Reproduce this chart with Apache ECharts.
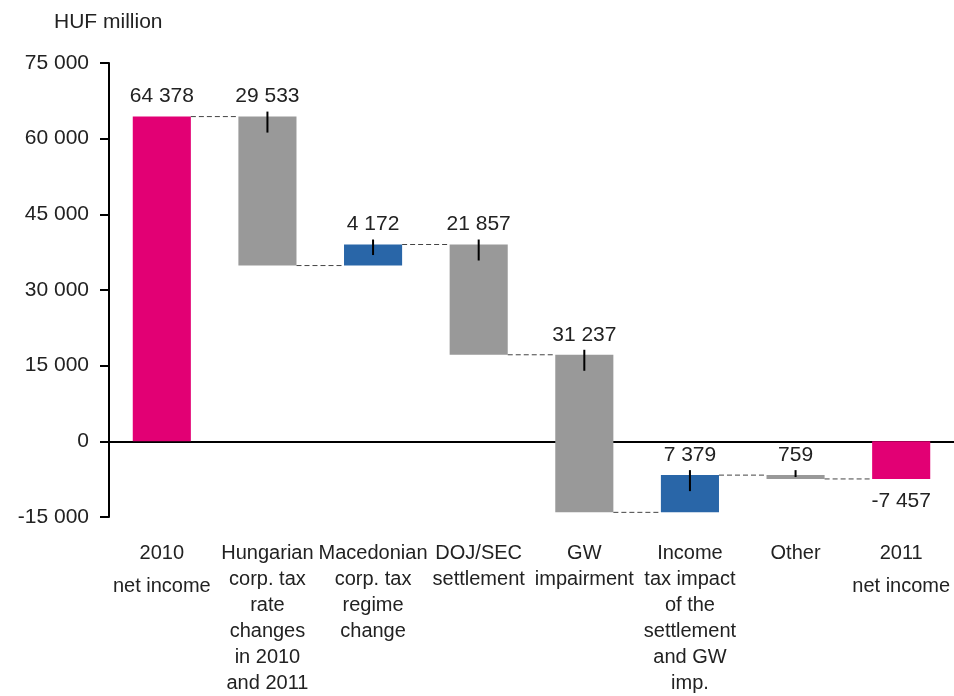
<!DOCTYPE html>
<html>
<head>
<meta charset="utf-8">
<script src="https://cdn.jsdelivr.net/npm/echarts@6/dist/echarts.min.js"></script>
<style>
  html, body { margin: 0; padding: 0; background: #fff; }
  #chart { width: 954px; height: 696px; }
</style>
</head>
<body>
<div id="chart"></div>
<script>
// categories along x
const categories = [
  '2010\nnet income',
  'Hungarian\ncorp. tax\nrate\nchanges\nin 2010\nand 2011',
  'Macedonian\ncorp. tax\nregime\nchange',
  'DOJ/SEC\nsettlement',
  'GW\nimpairment',
  'Income\ntax impact\nof the\nsettlement\nand GW\nimp.',
  'Other',
  '2011\nnet income'
]
// net income (totals) and changes, HUF million
const values = [64378, -29533, 4172, -21857, -31237, 7379, -759, -7457]
const kinds = ['total', 'delta', 'delta', 'delta', 'delta', 'delta', 'delta', 'total']
// y axis ticks
const yMin = -15000
const yMax = 75000
const yStep = 15000

const MAGENTA = '#E20074'
const GREY = '#999999'
const BLUE = '#2966A8'
const FONT = '"Liberation Sans", Arial, sans-serif'

function fmt(n) {
  return String(Math.abs(n)).replace(/\B(?=(\d{3})+(?!\d))/g, ' ')
}

// running totals -> [index, start, end]
let running = 0
let barData = []
for (let i = 0; i < values.length; i++) {
  let start, end
  if (kinds[i] === 'total') {
    start = 0
    end = values[i]
  } else {
    start = running
    end = running + values[i]
  }
  running = end
  barData.push([i, start, end])
}

function renderItem(params, api) {
  const i = api.value(0)
  const start = api.value(1)
  const end = api.value(2)
  const band = api.size([1, 0])[0]
  const w = band * 0.55
  const pTop = api.coord([i, Math.max(start, end)])
  const pBot = api.coord([i, Math.min(start, end)])
  const cx = pTop[0]
  const top = pTop[1]
  const bot = pBot[1]
  const h = bot - top
  const kind = kinds[i]
  const val = values[i]

  let color = kind === 'total' ? MAGENTA : (val >= 0 ? BLUE : GREY)
  let children = []

  children.push({
    type: 'rect',
    shape: { x: cx - w / 2, y: top, width: w, height: h },
    style: { fill: color }
  })

  // dashed connector to next bar
  if (i < values.length - 1) {
    const yEnd = api.coord([i, end])[1]
    children.push({
      type: 'line',
      shape: { x1: cx + w / 2, y1: yEnd, x2: cx + band - w / 2, y2: yEnd },
      style: { stroke: '#444', lineWidth: 1, lineDash: [5, 3] }
    })
  }

  // little black marker on change bars
  if (kind === 'delta') {
    children.push({
      type: 'line',
      shape: { x1: cx, y1: top - 5, x2: cx, y2: top + Math.min(16, h / 2) },
      style: { stroke: '#000', lineWidth: 2 }
    })
  }

  // value label
  let txt = kind === 'total' && val < 0 ? '-' + fmt(val) : fmt(val)
  let ty = (kind === 'total' && val < 0) ? bot + 22 : top - 20
  children.push({
    type: 'text',
    style: {
      text: txt,
      x: cx,
      y: ty,
      align: 'center',
      verticalAlign: 'middle',
      fontSize: 21,
      fontFamily: FONT,
      fill: '#222'
    }
  })

  return { type: 'group', children: children }
}

let chart = echarts.init(document.getElementById('chart'), null, { renderer: 'canvas' })

let option = {
  animation: false,
  backgroundColor: '#fff',
  title: {
    text: 'HUF million',
    left: 49,
    top: 7,
    textStyle: { fontSize: 21, fontWeight: 'normal', color: '#222', fontFamily: FONT }
  },
  grid: {
    left: 109,
    top: 63,
    width: 849,
    bottom: 175
  },
  xAxis: [
    {
      type: 'category',
      data: categories,
      axisLine: { onZero: true, lineStyle: { color: '#000', width: 2 } },
      axisTick: { show: false },
      axisLabel: { show: false },
      splitLine: { show: false }
    },
    {
      type: 'category',
      data: categories,
      position: 'bottom',
      axisLine: { show: false, onZero: false },
      axisTick: { show: false },
      axisLabel: {
        interval: 0,
        margin: 23,
        fontSize: 20,
        lineHeight: 26,
        color: '#222',
        fontFamily: FONT,
        // the net income labels have a wider gap before their second line
        formatter: function (v, i) {
          return kinds[i] === 'total' ? v.replace('\n', '\n{t|') + '}' : v
        },
        rich: {
          t: { fontSize: 20, lineHeight: 40, color: '#222', fontFamily: FONT }
        }
      }
    }
  ],
  yAxis: {
    type: 'value',
    min: yMin,
    max: yMax,
    interval: yStep,
    axisLine: { show: true, lineStyle: { color: '#000', width: 2 } },
    axisTick: { show: true, length: 9, lineStyle: { color: '#000', width: 2 } },
    splitLine: { show: false },
    axisLabel: {
      margin: 20,
      fontSize: 21,
      color: '#222',
      fontFamily: FONT,
      formatter: function (v) {
        return (v < 0 ? '-' : '') + fmt(v)
      }
    }
  },
  series: [
    {
      type: 'custom',
      xAxisIndex: 0,
      renderItem: renderItem,
      encode: { x: 0, y: [1, 2] },
      data: barData,
      clip: false,
      z: 3
    }
  ]
}

chart.setOption(option)
window.addEventListener('resize', () => {
  chart.resize()
})
</script>
</body>
</html>
